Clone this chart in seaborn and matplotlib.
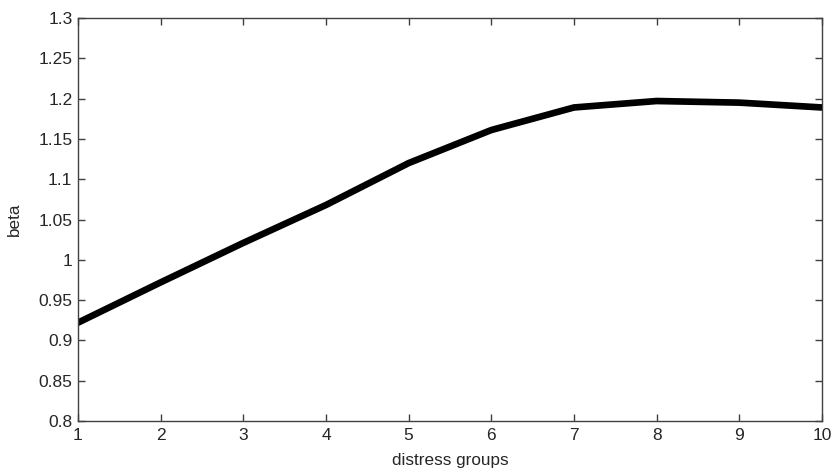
import matplotlib
matplotlib.use("Agg")
import matplotlib.pyplot as plt
import seaborn as sns
import pandas as pd

groups = [1, 2, 3, 4, 5, 6, 7, 8, 9, 10]
beta = [0.922, 0.972, 1.021, 1.068, 1.120, 1.161, 1.189, 1.197, 1.195, 1.189]
y_ticks = [0.8, 0.85, 0.9, 0.95, 1.0, 1.05, 1.1, 1.15, 1.2, 1.25, 1.3]
y_tick_labels = ["0.8", "0.85", "0.9", "0.95", "1", "1.05", "1.1", "1.15", "1.2", "1.25", "1.3"]
x_ticks = [1, 2, 3, 4, 5, 6, 7, 8, 9, 10]

sns.set_style("white")
plt.rcParams['font.family'] = ['Liberation Sans', 'DejaVu Sans']

df = pd.DataFrame({"distress groups": groups, "beta": beta})

fig = plt.figure(figsize=(8.33, 4.70), dpi=100)
ax = fig.add_axes([78/833, 49/470, (822-78)/833, (421-18)/470])
sns.lineplot(data=df, x="distress groups", y="beta", ax=ax, color="black", linewidth=4.8)

ax.set_xlim(1, 10)
ax.set_ylim(0.8, 1.3)
ax.set_xticks(x_ticks)
ax.set_xticklabels([str(v) for v in x_ticks])
ax.set_yticks(y_ticks)
ax.set_yticklabels(y_tick_labels)
ax.set_xlabel("distress groups", fontsize=12.3, color="#262626", labelpad=7)
ax.set_ylabel("beta", fontsize=12.3, color="#262626", labelpad=12)

for s in ax.spines.values():
    s.set_visible(True)
    s.set_color("#404040")
    s.set_linewidth(1.0)
ax.tick_params(direction="in", length=5, width=1, color="#404040", labelsize=12.5,
               labelcolor="#262626", top=True, right=True, bottom=True, left=True)
ax.tick_params(axis="x", pad=5)
ax.tick_params(axis="y", pad=4)

fig.savefig("out.png", dpi=100, facecolor="white")
